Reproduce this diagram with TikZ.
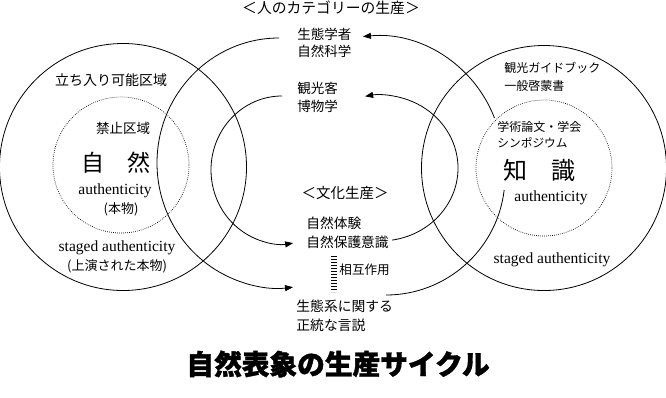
\documentclass[tikz,border=0pt]{standalone}
\usepackage{fontspec}
\setmainfont{Noto Sans CJK JP}
\newfontfamily\serifen{Liberation Serif}
\usetikzlibrary{arrows.meta}
\newcommand{\fs}[1]{\fontsize{#1}{#1}\selectfont}
\begin{document}
\begin{tikzpicture}[x=1pt,y=-1pt,line width=0.8pt,
  lbl/.style={inner sep=0pt},
  lw/.style={inner sep=0pt,anchor=west},
  en/.style={inner sep=0pt,font=\serifen\fs{15.5}},
  ring/.style={draw,line width=0.8pt},
  dotring/.style={draw,line width=0.7pt,dash pattern=on 0.7pt off 1.3pt},
  arr/.style={draw,line width=0.8pt,-{Triangle[length=8pt,width=6pt]}},
  ladder/.style={draw,line width=6pt,dash pattern=on 0.8pt off 2.2pt}
]
\useasboundingbox (0,0) rectangle (666,397);
% circles
\draw[ring] (123,167) circle[radius=123.5];
\draw[ring] (544,168) circle[radius=122.5];
\draw[dotring] (121,165) circle[radius=68];
\draw[dotring] (544,168) circle[radius=68];
% arc anchors
\coordinate (aS) at (279,38);
\coordinate (bS) at (282,96);
\coordinate (cS) at (494.5,118.1);
\coordinate (dS) at (392.2,240.1);
\coordinate (eS) at (386,295);
\draw[arr] (aS) arc[start angle=-90,end angle=-276.6,x radius=122,y radius=125];
\draw[arr] (bS) arc[start angle=-90,end angle=-279,x radius=71,y radius=74];
\draw[arr] (cS) arc[start angle=-21,end angle=-95.4,radius=128];
\draw[arr] (dS) arc[start angle=81,end angle=-101,x radius=78,y radius=73];
\draw[ring] (eS) arc[start angle=90,end angle=6.8,radius=119];
% ladder
\coordinate (lT) at (334,256);
\coordinate (lB) at (334,292);
\draw[ladder] (lT) -- (lB);
% texts
\node[lbl,font=\fs{14.8}] (t1) at (331,8) {＜人のカテゴリーの生産＞};
\node[lw,font=\fs{13.5}] (c1) at (297,34) {生態学者};
\node[lw,font=\fs{13.5}] (c2) at (297,51) {自然科学};
\node[lw,font=\fs{13.5}] (c3) at (297,88) {観光客};
\node[lw,font=\fs{13.5}] (c4) at (297,106) {博物学};
\node[lbl,font=\fs{14.5}] (t2) at (345,193) {＜文化生産＞};
\node[lw,font=\fs{13.7}] (m1) at (306,223) {自然体験};
\node[lw,font=\fs{13.7}] (m2) at (306,242) {自然保護意識};
\node[lw,font=\fs{12.6}] (m3) at (339,270) {相互作用};
\node[lw,font=\fs{13.8}] (m4) at (296,306) {生態系に関する};
\node[lw,font=\fs{13.8}] (m5) at (296,325) {正統な言説};
% left
\node[lbl,font=\fs{14}] (l1) at (111,80) {立ち入り可能区域};
\node[lbl,font=\fs{13.5}] (l2) at (123,128) {禁止区域};
\node[lbl,font=\fs{23}] (l3) at (116,163) {自　然};
\node[en] (l4) at (115,191) {authenticity};
\node[lbl,font=\fs{13}] (l5) at (121,209) {(本物)};
\node[en] (l6) at (117,248) {staged authenticity};
\node[lbl,font=\fs{13}] (l7) at (117,266) {(上演された本物)};
% right
\node[lw,font=\fs{12}] (r1) at (504,68) {観光ガイドブック};
\node[lw,font=\fs{12}] (r2) at (504,86) {一般啓蒙書};
\node[lw,font=\fs{12}] (r3) at (497,127) {学術論文・学会};
\node[lw,font=\fs{11.7}] (r4) at (497,143) {シンポジウム};
\node[lbl,font=\fs{24}] (r5) at (539,170) {知　識};
\node[en] (r6) at (551,198) {authenticity};
\node[en] (r7) at (552,260) {staged authenticity};
% title
\node[lbl,font=\bfseries\addfontfeature{FakeBold=1.3}\fs{27.7}] (ttl) at (338,364) {自然表象の生産サイクル};
\end{tikzpicture}
\end{document}
